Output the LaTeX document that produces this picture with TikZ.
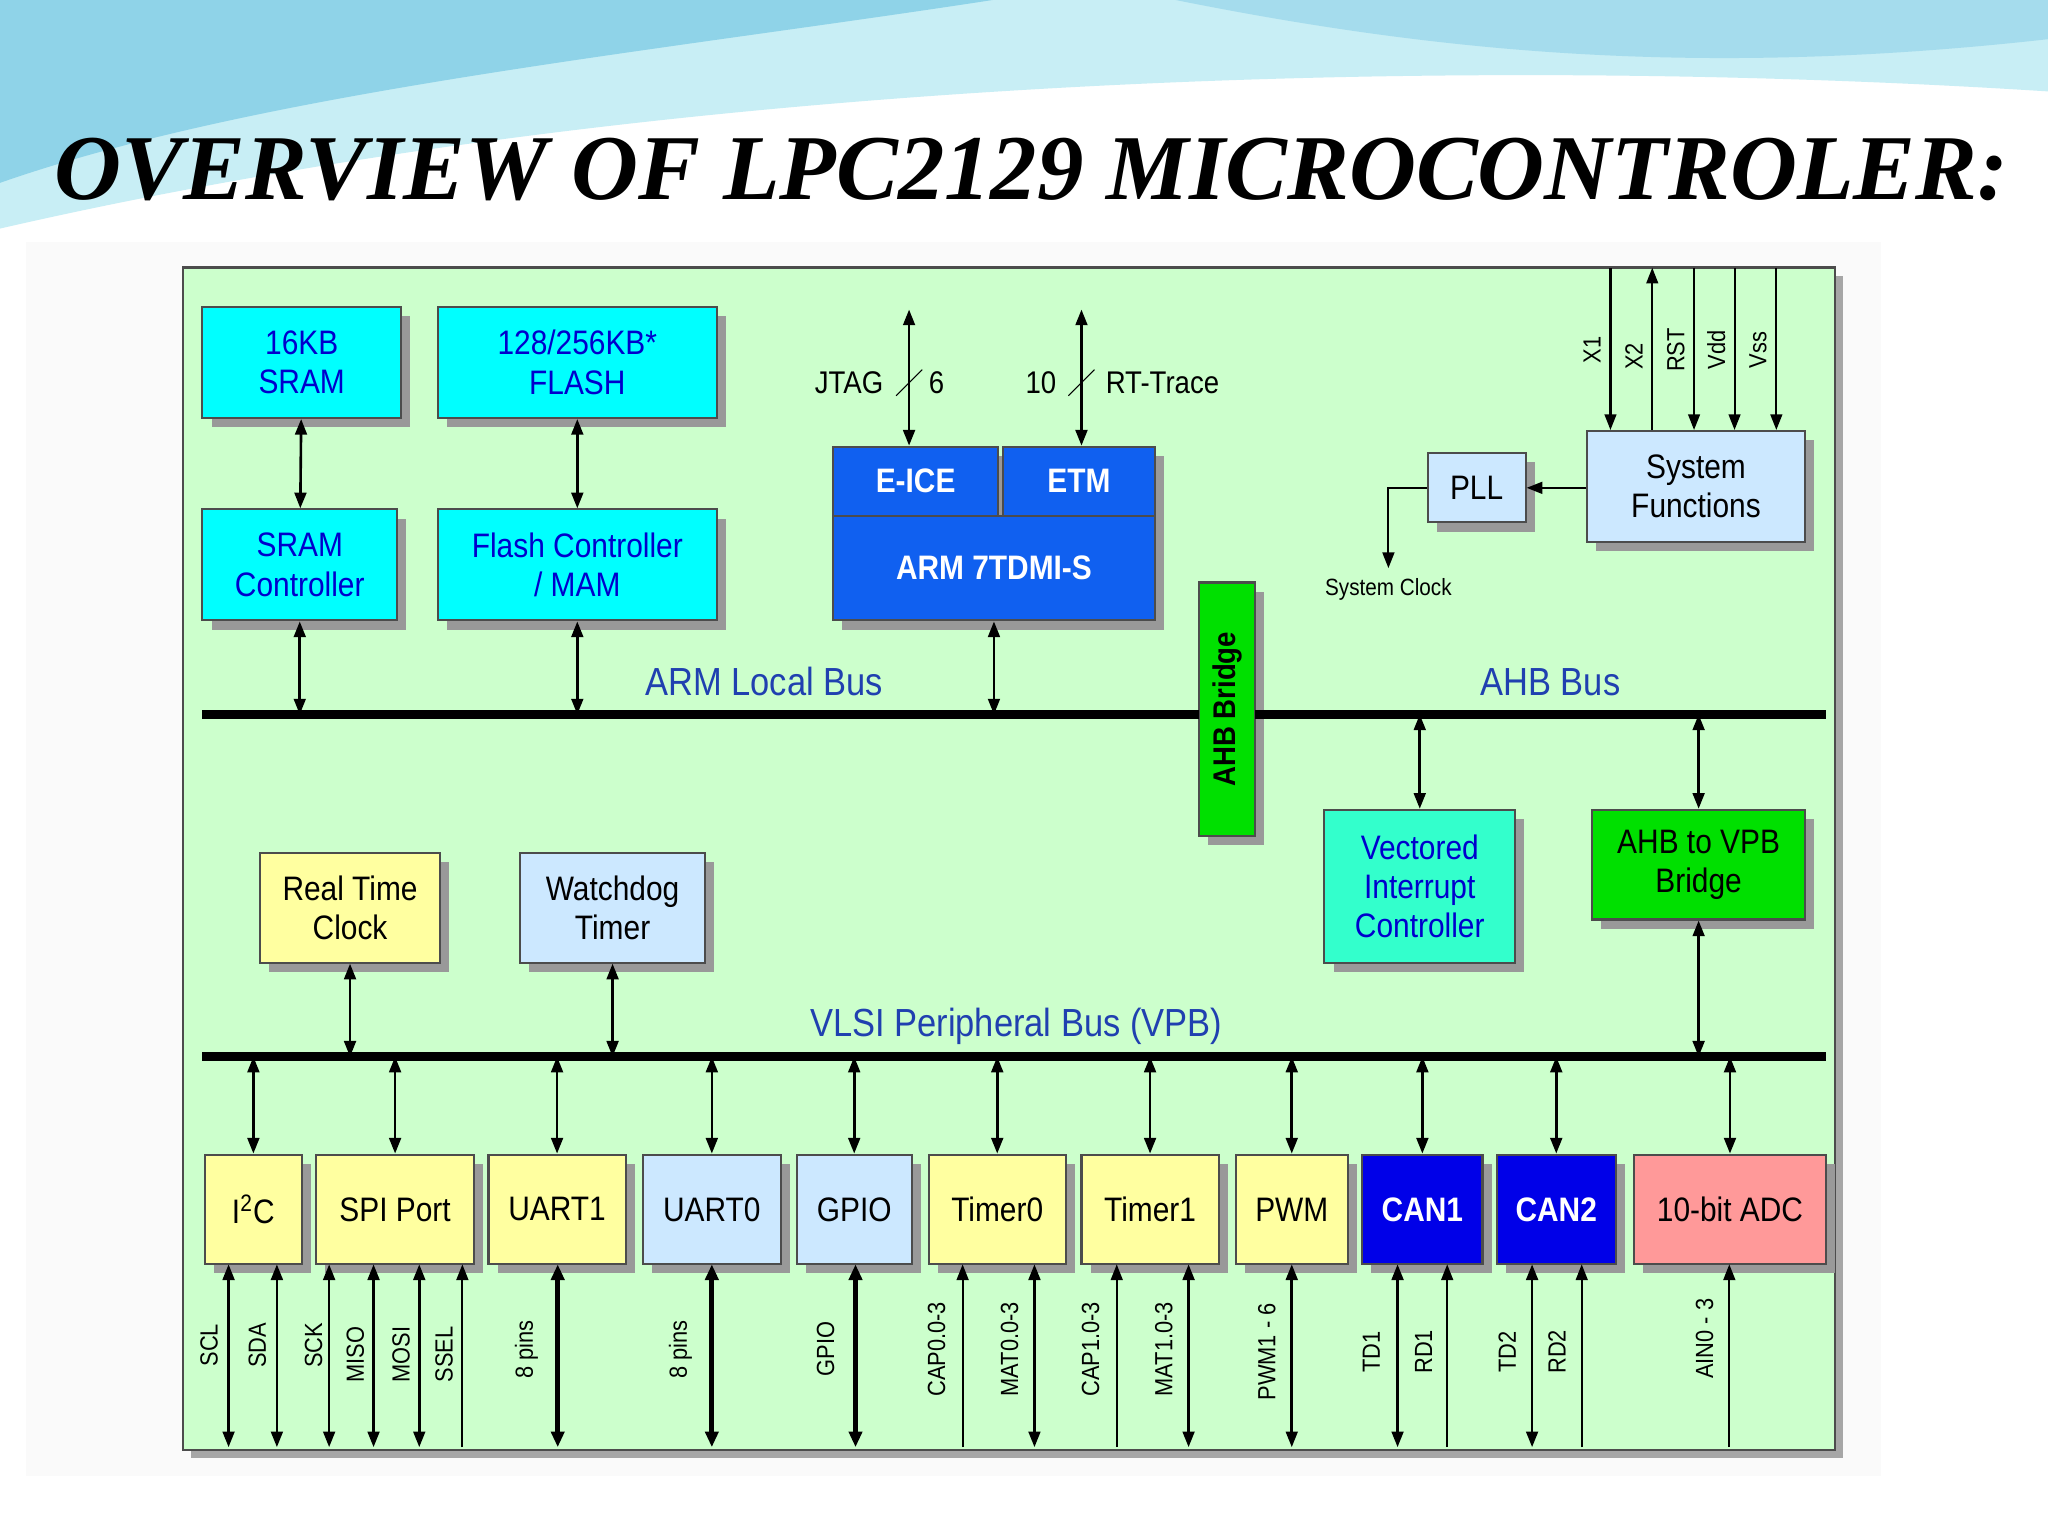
\documentclass[tikz,border=0pt]{standalone}
\usepackage{fontspec}
\setmainfont{Liberation Sans}[FakeStretch=0.88]
\newfontfamily\titlefont{Liberation Serif}
\usetikzlibrary{arrows.meta,shadows}
\definecolor{bg}{HTML}{CCFFCC}
\definecolor{cy}{HTML}{00FFFF}
\definecolor{txb}{HTML}{0000CC}
\definecolor{armb}{HTML}{1060F0}
\definecolor{canb}{HTML}{0000E8}
\definecolor{lb}{HTML}{CCE8FF}
\definecolor{yl}{HTML}{FFFFA0}
\definecolor{gr}{HTML}{00E000}
\definecolor{vic}{HTML}{33FFCC}
\definecolor{adc}{HTML}{FF9999}
\definecolor{buslbl}{HTML}{2040B0}
\definecolor{wave1}{HTML}{8FD3E8}
\definecolor{wave2}{HTML}{C8EEF5}
\tikzset{
 box/.style={draw=black!70,line width=0.8pt,inner sep=0pt,align=center,font=\fontsize{13}{15}\selectfont,
   drop shadow={shadow xshift=3.5pt,shadow yshift=-3.5pt,fill=black!40,opacity=1}},
 cyb/.style={box,fill=cy,text=txb},
 armbx/.style={box,fill=armb,text=white,font=\fontsize{13}{15}\selectfont\bfseries},
 lbb/.style={box,fill=lb},
 ylb/.style={box,fill=yl},
 grb/.style={box,fill=gr},
 bus/.style={line width=3.5pt},
 dbl/.style={line width=1pt,{Triangle[length=6pt,width=4.5pt]}-{Triangle[length=6pt,width=4.5pt]}},
 up/.style={line width=0.8pt,-{Triangle[length=6pt,width=4.5pt]}},
 thk/.style={line width=1.8pt,{Triangle[length=6pt,width=5pt]}-{Triangle[length=6pt,width=5pt]}},
 pinl/.style={rotate=90,font=\fontsize{9.5}{11}\selectfont},
 buslab/.style={text=buslbl,font=\fontsize{15}{17}\selectfont},
}
\newcommand\bx[7]{\node[#6,minimum width={(#4-#2)*0.5pt},minimum height={(#5-#3)*0.5pt}] (#1) at ({(#2+#4)/2},{(#3+#5)/2}) {#7};}
\newcommand\pin[6]{\coordinate (#1t) at (#2,968); \coordinate (#1b) at (#2,1108);
 \draw[#3] (#1b) -- (#1t); \node[pinl] (#1l) at (#5,#6) {#4};}
\begin{document}
\begin{tikzpicture}[x=0.5pt,y=-0.5pt]
\useasboundingbox (0,0) rectangle (1568,1176);
\fill[white] (0,0) rectangle (1568,1176);
\fill[wave2] (0,0) -- (1568,0) -- (1568,70) .. controls (1100,40) and (500,60) .. (0,175) -- cycle;
\fill[wave1] (0,0) -- (760,0) .. controls (500,40) and (200,70) .. (0,140) -- cycle;
\fill[wave1!80] (900,0) -- (1568,0) -- (1568,30) .. controls (1300,60) and (1100,40) .. (900,0) -- cycle;
\fill[black!2] (20,185) rectangle (1440,1130);
\node[font=\titlefont\fontsize{35.5}{38}\selectfont\bfseries\itshape] (title) at (790,130) {OVERVIEW OF LPC2129 MICROCONTROLER:};
\node[draw=black!70,fill=bg,line width=1pt,minimum width={1265*0.5pt},minimum height={905*0.5pt},
  drop shadow={shadow xshift=3pt,shadow yshift=-3pt,fill=black!35,opacity=1}] (frame) at (772.5,657.5) {};
\bx{sram}{155}{235}{307}{320}{cyb}{16KB\\SRAM}
\bx{flash}{335}{235}{549}{320}{cyb}{128/256KB*\\FLASH}
\bx{sramc}{155}{390}{304}{475}{cyb}{SRAM\\Controller}
\bx{flashc}{335}{390}{549}{475}{cyb}{Flash Controller\\/ MAM}
\bx{eice}{638}{342}{764}{395}{armbx}{E-ICE}
\bx{etm}{768}{342}{884}{395}{armbx}{ETM}
\bx{arm}{638}{395}{884}{475}{armbx}{ARM 7TDMI-S}
\node[box,fill=gr,minimum width={43*0.5pt},minimum height={194*0.5pt}] (ahbb) at (939.5,543) {};
\node[rotate=90,font=\fontsize{12}{14}\selectfont\bfseries] (ahbbl) at (ahbb) {AHB Bridge};
\bx{pll}{1093}{347}{1168}{400}{lbb}{PLL}
\bx{sysf}{1215}{330}{1382}{415}{lbb}{System\\Functions}
\bx{vic}{1014}{620}{1160}{737}{box,fill=vic,text=txb}{Vectored\\Interrupt\\Controller}
\bx{a2v}{1219}{620}{1382}{704}{grb}{AHB to VPB\\Bridge}
\bx{rtc}{199}{653}{337}{737}{ylb}{Real Time\\Clock}
\bx{wdt}{398}{653}{540}{737}{lbb}{Watchdog\\Timer}
\bx{i2c}{157}{884}{231}{968}{ylb}{I\textsuperscript{2}C}
\bx{spi}{242}{884}{363}{968}{ylb}{SPI Port}
\bx{u1}{374}{884}{479}{968}{ylb}{UART1}
\bx{u0}{492}{884}{598}{968}{lbb}{UART0}
\bx{gpio}{610}{884}{698}{968}{lbb}{GPIO}
\bx{t0}{711}{884}{816}{968}{ylb}{Timer0}
\bx{t1}{828}{884}{933}{968}{ylb}{Timer1}
\bx{pwm}{946}{884}{1032}{968}{ylb}{PWM}
\bx{can1}{1043}{884}{1135}{968}{box,fill=canb,text=white,font=\fontsize{13}{15}\selectfont\bfseries}{CAN1}
\bx{can2}{1146}{884}{1237}{968}{box,fill=canb,text=white,font=\fontsize{13}{15}\selectfont\bfseries}{CAN2}
\bx{adc}{1251}{884}{1398}{968}{box,fill=adc}{10-bit ADC}
\coordinate (lbL) at (155,547); \coordinate (lbR) at (918,547);
\coordinate (ahL) at (961,547); \coordinate (ahR) at (1398,547);
\coordinate (vpL) at (155,809); \coordinate (vpR) at (1398,809);
\draw[bus] (lbL) -- (lbR); \draw[bus] (ahL) -- (ahR); \draw[bus] (vpL) -- (vpR);
\node[buslab] (lbl1) at (585,522) {ARM Local Bus};
\node[buslab] (lbl2) at (1187,522) {AHB Bus};
\node[buslab] (lbl3) at (778,786) {VLSI Peripheral Bus (VPB)};
\draw[dbl] (sram) -- (sramc);
\draw[dbl] (flash) -- (flashc);
\draw[dbl] (sramc.south) -- (sramc.south |- lbL);
\draw[dbl] (flashc.south) -- (flashc.south |- lbL);
\draw[dbl] (arm.south -| 761,0) -- (761,547);
\draw[dbl] (vic.north) -- (vic.north |- ahL);
\draw[dbl] (a2v.north) -- (a2v.north |- ahL);
\draw[dbl] (a2v.south) -- (a2v.south |- vpL);
\draw[dbl] (rtc.south) -- (rtc.south |- vpL);
\draw[dbl] (wdt.south) -- (wdt.south |- vpL);
\foreach \n in {i2c,spi,u1,u0,gpio,t0,t1,pwm,can1,can2,adc}{\draw[dbl] (\n.north) -- (\n.north |- vpL);}
\coordinate (jt) at (696,237); \coordinate (rt) at (828,237);
\draw[dbl] (jt) -- (eice.north -| jt); \draw (686,303) -- (706,283);
\node[font=\fontsize{12}{14}\selectfont] (jtl) at (650,293) {JTAG};
\node[font=\fontsize{12}{14}\selectfont] (jtn) at (717,293) {6};
\draw[dbl] (rt) -- (etm.north -| rt); \draw (818,303) -- (838,283);
\node[font=\fontsize{12}{14}\selectfont] (rtn) at (797,293) {10};
\node[font=\fontsize{12}{14}\selectfont] (rtl) at (890,293) {RT-Trace};
\foreach \x/\l/\s in {1233/X1/up,1297/RST/up,1328/Vdd/up,1360/Vss/up}{
  \coordinate (p\l) at (\x,205); \draw[\s] (p\l) -- (sysf.north -| p\l);
  \node[pinl] (l\l) at (\x-14,268) {\l};}
\coordinate (pX2) at (1265,205); \draw[up] (sysf.north -| pX2) -- (pX2);
\node[pinl] (lX2) at (1251,273) {X2};
\draw[up] (sysf.west |- pll) -- (pll.east);
\coordinate (sc) at (1063,435);
\draw[up] (pll.west) -| (sc);
\node[font=\fontsize{9}{11}\selectfont] (scl) at (1063,451) {System Clock};
\pin{scl}{175}{dbl}{SCL}{160}{1030}
\pin{sda}{212}{dbl}{SDA}{197}{1030}
\pin{sck}{252}{dbl}{SCK}{240}{1030}
\pin{miso}{286}{dbl}{MISO}{272}{1037}
\pin{mosi}{321}{dbl}{MOSI}{307}{1037}
\pin{ssel}{354}{up}{SSEL}{340}{1037}
\pin{u1p}{427}{thk}{8 pins}{403}{1033}
\pin{u0p}{545}{thk}{8 pins}{521}{1033}
\pin{gp}{655}{thk}{GPIO}{632}{1033}
\pin{cap0}{737}{up}{CAP0.0-3}{717}{1033}
\pin{mat0}{792}{dbl}{MAT0.0-3}{773}{1033}
\pin{cap1}{855}{up}{CAP1.0-3}{835}{1033}
\pin{mat1}{910}{dbl}{MAT1.0-3}{891}{1033}
\pin{pw}{989}{dbl}{PWM1 - 6}{970}{1035}
\pin{td1}{1070}{dbl}{TD1}{1050}{1035}
\pin{rd1}{1108}{up}{RD1}{1090}{1035}
\pin{td2}{1173}{dbl}{TD2}{1154}{1035}
\pin{rd2}{1211}{up}{RD2}{1192}{1035}
\pin{ain}{1324}{up}{AIN0 - 3}{1305}{1025}
\end{tikzpicture}
\end{document}
